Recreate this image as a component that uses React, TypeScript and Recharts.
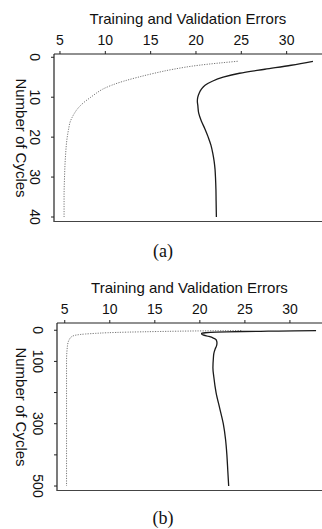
import React from 'react';
import { LineChart, Line, XAxis, YAxis, Label } from 'recharts';

const SANS = '"Liberation Sans", Arial, Helvetica, sans-serif';
const SERIF = '"Liberation Serif", "Times New Roman", serif';
const CHART_W = 322;
const CHART_H = 236;
const TOP_AXIS_H = 54;
const BOTTOM_PAD = 14;

// x axis (shared)
const errorTicks = [5, 10, 15, 20, 25, 30];

// panel (a): 40 cycles
const cycleTicksA = [0, 10, 20, 30, 40];
const trainCyclesA = [1, 2, 3, 4, 5, 6, 7, 8, 9, 10, 11, 12, 13, 14, 15, 16, 18, 20, 25, 30, 35, 40];
const trainErrA = [24.6, 20.3, 17.5, 15.4, 13.6, 12.0, 10.7, 9.7, 9.0, 8.4, 7.8, 7.3, 6.9, 6.6, 6.35, 6.15, 5.95, 5.8, 5.6, 5.5, 5.45, 5.45];
const validCyclesA = [1, 2, 3, 4, 5, 6, 7, 8, 9, 10, 11, 12, 14, 16, 18, 20, 22, 24, 26, 28, 30, 33, 36, 40];
const validErrA = [32.9, 30.5, 27.6, 24.8, 23.0, 21.8, 21.0, 20.6, 20.35, 20.2, 20.15, 20.2, 20.3, 20.6, 21.0, 21.35, 21.65, 21.85, 22.0, 22.1, 22.15, 22.2, 22.22, 22.25];

// panel (b): 500 cycles
const cycleTicksB = [0, 100, 200, 300, 400, 500];
const cycleLabelsB = ['0', '100', '', '300', '', '500'];
const trainCyclesB = [1, 2, 3, 4, 5, 6, 7, 8, 10, 12, 15, 20, 30, 50, 100, 200, 300, 400, 500];
const trainErrB = [24.6, 20.3, 17.5, 15.4, 13.6, 12.0, 10.7, 9.7, 8.4, 7.3, 6.35, 5.8, 5.5, 5.3, 5.2, 5.2, 5.2, 5.2, 5.2];
const validCyclesB = [1, 2, 3, 4, 5, 6, 8, 10, 12, 15, 20, 25, 30, 40, 50, 60, 75, 90, 120, 150, 200, 250, 300, 350, 400, 450, 500];
const validErrB = [32.9, 30.5, 27.6, 24.8, 23.0, 21.8, 20.6, 20.2, 20.2, 20.35, 21.0, 21.5, 21.8, 21.9, 21.85, 21.7, 21.55, 21.5, 21.45, 21.55, 21.8, 22.2, 22.6, 22.85, 23.0, 23.1, 23.2];

const toRows = (cycles: number[], errs: number[]) => cycles.map((c, i) => ({ cycle: c, err: errs[i] }));

const TopTick = (props: any) => {
  const { x, y, payload } = props;
  return (
    <text x={x} y={y} textAnchor="middle" fontSize={14} fontFamily={SANS} fill="#111">
      {payload.value}
    </text>
  );
};

const makeLeftTick = (labels?: string[], ticks?: number[]) => (props: any) => {
  const { x, y, payload } = props;
  let txt = String(payload.value);
  if (labels && ticks) txt = labels[ticks.indexOf(payload.value)] ?? txt;
  if (!txt) return null;
  return (
    <text
      x={x}
      y={y}
      transform={`rotate(90, ${x}, ${y})`}
      textAnchor="middle"
      dominantBaseline="central"
      fontSize={14}
      fontFamily={SANS}
      fill="#111"
    >
      {txt}
    </text>
  );
};

const XTitle = (props: any) => {
  const { viewBox } = props;
  return (
    <text
      x={viewBox.x + viewBox.width / 2}
      y={viewBox.y + 23.5}
      textAnchor="middle"
      fontSize={15}
      fontFamily={SANS}
      fill="#111"
    >
      Training and Validation Errors
    </text>
  );
};

const YTitle = (props: any) => {
  const { viewBox } = props;
  const cx = viewBox.x + 21.5;
  const cy = viewBox.y + viewBox.height / 2;
  return (
    <text
      x={cx}
      y={cy}
      transform={`rotate(90, ${cx}, ${cy})`}
      textAnchor="middle"
      dominantBaseline="central"
      fontSize={15}
      fontFamily={SANS}
      fill="#111"
    >
      Number of Cycles
    </text>
  );
};

interface PanelProps {
  top: number;
  yAxisWidth: number;
  xDomain: [number, number];
  yDomain: [number, number];
  yTicks: number[];
  yLabels?: string[];
  train: { cycle: number; err: number }[];
  valid: { cycle: number; err: number }[];
}

const Panel: React.FC<PanelProps> = ({ top, yAxisWidth, xDomain, yDomain, yTicks, yLabels, train, valid }) => (
  <div style={{ position: 'absolute', left: 0, top, width: CHART_W, height: CHART_H }}>
    <LineChart
      width={CHART_W}
      height={CHART_H}
      layout="vertical"
      margin={{ top: 0, right: 0, left: 0, bottom: BOTTOM_PAD }}
    >
      <XAxis
        type="number"
        dataKey="err"
        orientation="top"
        domain={xDomain}
        ticks={errorTicks}
        interval={0}
        allowDataOverflow
        height={TOP_AXIS_H}
        tickSize={3}
        tickMargin={6}
        tick={<TopTick />}
        axisLine={{ stroke: '#222', strokeWidth: 1.2 }}
        tickLine={{ stroke: '#222' }}
      >
        <Label content={<XTitle />} />
      </XAxis>
      <YAxis
        type="number"
        dataKey="cycle"
        domain={yDomain}
        ticks={yTicks}
        interval={0}
        allowDataOverflow
        width={yAxisWidth}
        tickSize={3}
        tickMargin={16}
        tick={makeLeftTick(yLabels, yTicks)}
        axisLine={{ stroke: '#222', strokeWidth: 1.2 }}
        tickLine={{ stroke: '#222' }}
      >
        <Label content={<YTitle />} />
      </YAxis>
      <Line
        data={train}
        dataKey="err"
        type="monotone"
        stroke="#777"
        strokeWidth={1}
        strokeDasharray="1.2 1.3"
        dot={false}
        activeDot={false}
        isAnimationActive={false}
      />
      <Line
        data={valid}
        dataKey="err"
        type="monotone"
        stroke="#1a1a1a"
        strokeWidth={1.3}
        dot={false}
        activeDot={false}
        isAnimationActive={false}
      />
    </LineChart>
    {/* bottom edge of the plot box */}
    <div
      style={{
        position: 'absolute',
        left: yAxisWidth,
        top: CHART_H - BOTTOM_PAD - 1,
        width: CHART_W - yAxisWidth,
        height: 1,
        background: '#444',
      }}
    />
  </div>
);

const capStyle: React.CSSProperties = {
  position: 'absolute',
  left: 0,
  width: 326,
  textAlign: 'center',
  fontFamily: SERIF,
  fontSize: 18,
  lineHeight: '18px',
  color: '#111',
};

const App: React.FC = () => (
  <div style={{ position: 'absolute', left: 0, top: 0, width: 322, height: 529, background: '#fff', overflow: 'hidden' }}>
    <Panel
      top={0}
      yAxisWidth={54}
      xDomain={[4.34, 33.9]}
      yDomain={[-0.82, 41.25]}
      yTicks={cycleTicksA}
      train={toRows(trainCyclesA, trainErrA)}
      valid={toRows(validCyclesA, validErrA)}
    />
    <div style={{ ...capStyle, top: 242 }}>(a)</div>
    <Panel
      top={269}
      yAxisWidth={57}
      xDomain={[4.14, 33.56]}
      yDomain={[-23.3, 516]}
      yTicks={cycleTicksB}
      yLabels={cycleLabelsB}
      train={toRows(trainCyclesB, trainErrB)}
      valid={toRows(validCyclesB, validErrB)}
    />
    <div style={{ ...capStyle, top: 509 }}>(b)</div>
  </div>
);

export default App;
